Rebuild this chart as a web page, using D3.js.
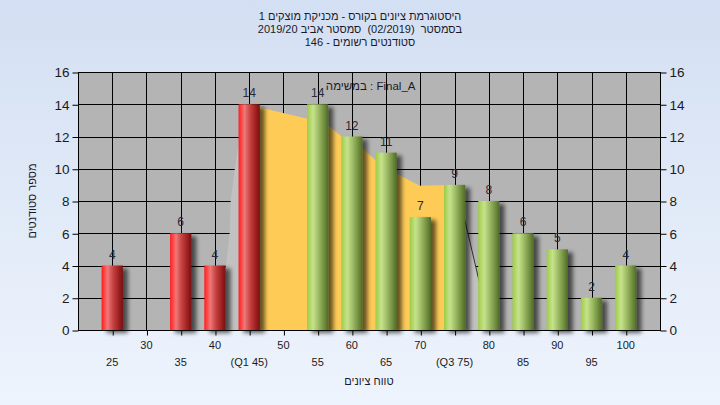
<!DOCTYPE html>
<html>
<head>
<meta charset="utf-8">
<script src="https://cdn.jsdelivr.net/npm/d3@7"></script>
<style>
  html, body { margin: 0; padding: 0; width: 720px; height: 405px; overflow: hidden; }
  svg { display: block; }
  text { font-family: "Liberation Sans", Arial, sans-serif; }
</style>
</head>
<body>
<svg id="chart" width="720" height="405"></svg>
<script>
// ---------- data ----------
const scores = [25, 30, 35, 40, 45, 50, 55, 60, 65, 70, 75, 80, 85, 90, 95, 100];
const counts = [4, 0, 6, 4, 14, 0, 14, 12, 11, 7, 9, 8, 6, 5, 2, 4];
const q1Score = 45;
const yTicks = [0, 2, 4, 6, 8, 10, 12, 14, 16];
const xGridTicks = [25, 30, 35, 40, 45, 50, 55, 60, 65, 70, 75, 80, 85, 90, 95, 100];
const xLabelsTopValues = [30, 40, 50, 60, 70, 80, 90, 100];
const xLabelsTopText = ["30", "40", "50", "60", "70", "80", "90", "100"];
const xLabelsBottomValues = [25, 35, 45, 55, 65, 75, 85, 95];
const xLabelsBottomText = ["25", "35", "(Q1 45)", "55", "65", "(Q3 75)", "85", "95"];
// background distribution area (light grey) – [score, value]
const greyAreaX = [41.0, 41.6, 42.15, 42.3, 42.9, 43.6, 44.5, 46, 66, 70, 74, 76.5, 78.6, 78.9];
const greyAreaY = [0, 4, 6, 8, 10, 12, 13.5, 13.5, 9.4, 8.7, 8.7, 6.8, 3.0, 0];
// inter-quartile area (yellow) – [score, value]
const yellowAreaX = [45, 45, 46.6, 53.5, 56.5, 58.5, 61.5, 63.5, 66.5, 69.9, 74, 74];
const yellowAreaY = [0, 14, 13.8, 13.1, 12.7, 12.0, 11.3, 10.5, 9.7, 8.95, 9.0, 0];
const titleLines = [
  "היסטוגרמת ציונים בקורס - מכניקת מוצקים 1",
  "בסמסטר  (02/2019)  סמסטר אביב 2019/20",
  "סטודנטים רשומים - 146"
];
const yTitle = "מספר סטודנטים";
const xTitle = "טווח ציונים";
const noteText = "במשימה : Final_A";

// ---------- layout ----------
const W = 720, H = 405;
const plot = { left: 78, right: 660, top: 72, bottom: 330 };
const barWidthUnits = 3.1;

const svg = d3.select("#chart");
const defs = svg.append("defs");

const bg = defs.append("linearGradient").attr("id", "pageBg").attr("x1", 0).attr("y1", 0).attr("x2", 0).attr("y2", 1);
bg.append("stop").attr("offset", "0%").attr("stop-color", "#d3dff2");
bg.append("stop").attr("offset", "100%").attr("stop-color", "#eef4fd");

function cyl(id, stops) {
  const g = defs.append("linearGradient").attr("id", id).attr("x1", 0).attr("y1", 0).attr("x2", 1).attr("y2", 0);
  stops.forEach(s => g.append("stop").attr("offset", s[0]).attr("stop-color", s[1]));
}
cyl("redBar", [["0%", "#ff1a1a"], ["10%", "#ff3c3c"], ["28%", "#ee7878"], ["55%", "#c64040"], ["82%", "#9c2020"], ["100%", "#761010"]]);
cyl("greenBar", [["0%", "#9ccb46"], ["10%", "#acd45e"], ["28%", "#c6e28c"], ["55%", "#9cba64"], ["82%", "#6e8c3c"], ["100%", "#4f6a28"]]);

const shadow = defs.append("filter").attr("id", "shadow").attr("x", "-30%").attr("y", "-10%").attr("width", "180%").attr("height", "130%");
shadow.append("feGaussianBlur").attr("in", "SourceAlpha").attr("stdDeviation", 2.2).attr("result", "blur");
shadow.append("feOffset").attr("in", "blur").attr("dx", 5).attr("dy", 3).attr("result", "off");
shadow.append("feComponentTransfer").attr("in", "off").attr("result", "sh")
  .append("feFuncA").attr("type", "linear").attr("slope", 0.6);
const merge = shadow.append("feMerge");
merge.append("feMergeNode").attr("in", "sh");
merge.append("feMergeNode").attr("in", "SourceGraphic");

svg.append("rect").attr("width", W).attr("height", H).attr("fill", "url(#pageBg)");

const x = d3.scaleLinear().domain([20, 105]).range([plot.left, plot.right]);
const y = d3.scaleLinear().domain([0, 16]).range([plot.bottom, plot.top]);

svg.append("rect")
  .attr("x", x(20)).attr("y", y(16))
  .attr("width", x(105) - x(20)).attr("height", y(0) - y(16))
  .attr("fill", "#b4b4b4");

const grid = svg.append("g").attr("stroke", "#000").attr("stroke-width", 1).attr("shape-rendering", "crispEdges");
grid.selectAll("line.h").data(yTicks).join("line")
  .attr("x1", x(20)).attr("x2", x(105))
  .attr("y1", d => Math.round(y(d)) + 0.5).attr("y2", d => Math.round(y(d)) + 0.5);
grid.selectAll("line.v").data(xGridTicks).join("line")
  .attr("y1", y(16)).attr("y2", y(0))
  .attr("x1", d => Math.round(x(d)) + 0.5).attr("x2", d => Math.round(x(d)) + 0.5);

const areaGen = d3.line().x(d => x(d[0])).y(d => y(d[1]));
const greyPts = greyAreaX.map((v, i) => [v, greyAreaY[i]]);
svg.append("path").attr("d", areaGen(greyPts) + "Z").attr("fill", "#c1c1c1");
svg.append("path").attr("d", areaGen(greyPts.slice(11, 13)))
  .attr("fill", "none").attr("stroke", "#333").attr("stroke-width", 1);
const yellowPts = yellowAreaX.map((v, i) => [v, yellowAreaY[i]]);
svg.append("path").attr("d", areaGen(yellowPts) + "Z").attr("fill", "#fecb57");

const axesG = svg.append("g").attr("stroke", "#000").attr("shape-rendering", "crispEdges");
axesG.append("line").attr("x1", x(20) + 0.5).attr("x2", x(20) + 0.5).attr("y1", y(16)).attr("y2", y(0) + 1);
axesG.append("line").attr("x1", x(105) + 0.5).attr("x2", x(105) + 0.5).attr("y1", y(16)).attr("y2", y(0) + 1);
axesG.append("line").attr("x1", x(20)).attr("x2", x(105) + 1).attr("y1", Math.round(y(0)) + 0.5).attr("y2", Math.round(y(0)) + 0.5);

const barData = scores.map((s, i) => ({ s, c: counts[i] })).filter(d => d.c > 0);
const bars = svg.append("g").attr("filter", "url(#shadow)");
bars.selectAll("rect").data(barData).join("rect")
  .attr("x", d => x(d.s - barWidthUnits / 2))
  .attr("width", d => x(d.s + barWidthUnits / 2) - x(d.s - barWidthUnits / 2))
  .attr("y", d => y(d.c))
  .attr("height", d => y(0) - y(d.c))
  .attr("fill", d => d.s <= q1Score ? "url(#redBar)" : "url(#greenBar)");

const leftAxis = d3.axisLeft(y).tickValues(yTicks).tickSize(6).tickPadding(3).tickFormat(d3.format("d"));
const gl = svg.append("g").attr("transform", `translate(${x(20) + 0.5},0.5)`).call(leftAxis);
const rightAxis = d3.axisRight(y).tickValues(yTicks).tickSize(6).tickPadding(3).tickFormat(d3.format("d"));
const gr = svg.append("g").attr("transform", `translate(${x(105) + 0.5},0.5)`).call(rightAxis);
[gl, gr].forEach(g => {
  g.select(".domain").remove();
  g.selectAll(".tick line").attr("stroke", "#000");
  g.selectAll(".tick text").attr("fill", "#1b1b1b").attr("font-size", 13.5)
    .attr("font-family", "'Liberation Sans', Arial, sans-serif");
});

const bottomAxis = d3.axisBottom(x).tickValues(xGridTicks).tickSize(5).tickFormat("");
const gb = svg.append("g").attr("transform", `translate(0.5,${Math.round(y(0)) + 0.5})`).call(bottomAxis);
gb.select(".domain").remove();
gb.selectAll(".tick line").attr("stroke", "#000");

svg.append("g").selectAll("text").data(xLabelsTopValues).join("text")
  .attr("x", d => x(d)).attr("y", 349)
  .attr("text-anchor", "middle").attr("font-size", 11).attr("fill", "#1b1b1b")
  .text((d, i) => xLabelsTopText[i]);
svg.append("g").selectAll("text").data(xLabelsBottomValues).join("text")
  .attr("x", d => x(d)).attr("y", 366)
  .attr("text-anchor", "middle").attr("font-size", 11).attr("fill", "#1b1b1b")
  .text((d, i) => xLabelsBottomText[i]);

svg.append("g").selectAll("text").data(barData).join("text")
  .attr("x", d => x(d.s)).attr("y", d => y(d.c) - 7)
  .attr("text-anchor", "middle").attr("font-size", 12).attr("fill", "#2a2a36")
  .text(d => d.c);

svg.append("text").attr("x", x(56.2)).attr("y", 90)
  .attr("font-size", 11.5).attr("fill", "#1a1a2a").attr("direction", "ltr")
  .text(noteText);

svg.append("g").selectAll("text").data(titleLines).join("text")
  .attr("x", 360).attr("y", (d, i) => 20 + i * 13)
  .attr("text-anchor", "middle").attr("font-size", 11).attr("fill", "#1a1a2a")
  .attr("direction", "rtl").attr("unicode-bidi", "embed")
  .style("white-space", "pre")
  .text(d => d);

svg.append("text").attr("x", 369).attr("y", 385)
  .attr("text-anchor", "middle").attr("font-size", 11).attr("fill", "#1a1a2a")
  .text(xTitle);

svg.append("text").attr("transform", "translate(36,201) rotate(-90)")
  .attr("text-anchor", "middle").attr("font-size", 11).attr("fill", "#1a1a2a")
  .text(yTitle);
</script>
</body>
</html>
